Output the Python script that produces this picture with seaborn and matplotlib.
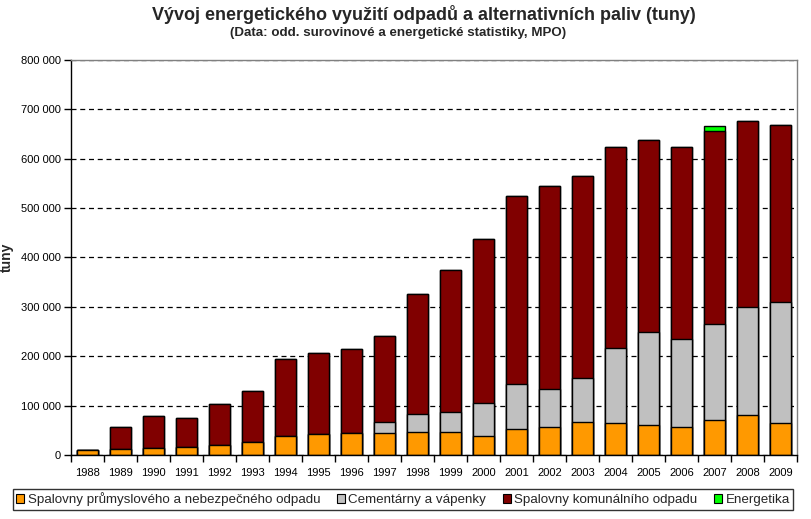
import pandas as pd
import matplotlib.pyplot as plt
import seaborn as sns
from matplotlib.patches import Patch
from matplotlib.ticker import FuncFormatter, FixedLocator

# --- DATA (tuny) ---
years = [str(y) for y in range(1988, 2010)]
prumyslove = [9500, 11500, 13500, 15500, 19500, 25700, 37800, 42500, 43800, 43800, 45900,
              45900, 37800, 52000, 56000, 66000, 64100, 60000, 57300, 70200, 80900, 64100]
cementarny = [0, 0, 0, 0, 0, 0, 0, 0, 0, 22200, 36400,
              41700, 66800, 91000, 77000, 89000, 151700, 188200, 176700, 194200, 217900, 244800]
komunalni = [0, 44500, 65500, 58500, 83000, 103800, 155700, 163200, 170000, 174700, 244700,
             286700, 333800, 381000, 411200, 409400, 408600, 389100, 390400, 391100, 376900, 360100]
energetika = [0, 0, 0, 0, 0, 0, 0, 0, 0, 0, 0,
              0, 0, 0, 0, 0, 0, 0, 0, 10100, 0, 0]

labels = ['Spalovny průmyslového a nebezpečného odpadu', 'Cementárny a vápenky',
          'Spalovny komunálního odpadu', 'Energetika']
colors = ['#FF9900', '#C0C0C0', '#800000', '#00FF00']

df = pd.DataFrame({'rok': years, 'prum': prumyslove, 'cem': cementarny,
                   'kom': komunalni, 'ener': energetika})
# cumulative heights, drawn back to front so they look stacked
df['c1'] = df['prum']
df['c2'] = df['c1'] + df['cem']
df['c3'] = df['c2'] + df['kom']
df['c4'] = df['c3'] + df['ener']

sns.set_theme(style="white")
plt.rcParams['font.family'] = ['Liberation Sans', 'DejaVu Sans']

fig = plt.figure(figsize=(8.11, 5.19), dpi=100)
ax = fig.add_axes([71 / 811, 64 / 519, 726 / 811, 395 / 519])

for col, color in zip(['c4', 'c3', 'c2', 'c1'], colors[::-1]):
    sns.barplot(data=df, x='rok', y=col, color=color, width=0.64, ax=ax,
                edgecolor='black', linewidth=1.0, saturation=1)

ax.set_xlim(-0.5, len(years) - 0.5)
ax.set_ylim(0, 800000)
ax.set_yticks(range(0, 800001, 100000))
ax.yaxis.set_major_formatter(FuncFormatter(lambda v, p: f"{int(v):,}".replace(',', ' ')))
ax.set_axisbelow(True)
ax.yaxis.grid(True, color='black', linestyle=(0, (4, 3)), linewidth=0.9)
ax.xaxis.grid(False)

ax.set_xlabel('')
ax.set_ylabel('tuny', fontsize=10, fontweight='bold', labelpad=5)

# tick marks between categories, labels centered under bars
ax.xaxis.set_minor_locator(FixedLocator([i - 0.5 for i in range(len(years) + 1)]))
ax.tick_params(axis='x', which='major', length=0, labelsize=8, pad=9, colors='black')
ax.tick_params(axis='x', which='minor', length=5, width=1, color='black', direction='out')
ax.tick_params(axis='y', which='major', length=5, width=1, color='black', direction='out',
               labelsize=8, labelcolor='black', pad=2.5)
ax.tick_params(bottom=True, left=True, which='both')

for side in ['left', 'bottom']:
    ax.spines[side].set_color('black')
    ax.spines[side].set_linewidth(1.0)
for side in ['top', 'right']:
    ax.spines[side].set_color('#808080')
    ax.spines[side].set_linewidth(1.0)

fig.text(424 / 811, 1 - 15 / 519, 'Vývoj energetického využití odpadů a alternativních paliv (tuny)',
         ha='center', va='center', fontsize=13, fontweight='bold')
fig.text(398 / 811, 1 - 33 / 519, '(Data: odd. surovinové a energetické statistiky, MPO)',
         ha='center', va='center', fontsize=9.6, fontweight='bold')

handles = [Patch(facecolor=c, edgecolor='black', linewidth=0.8) for c in colors]
leg = fig.legend(handles, labels, loc='center', ncol=4, bbox_to_anchor=(403 / 811, 1 - 499.5 / 519),
                 fontsize=9.6, frameon=True, fancybox=False, edgecolor='black',
                 handlelength=0.62, handleheight=0.62, handletextpad=0.25, columnspacing=1.25,
                 borderpad=0.25, borderaxespad=0)
leg.get_frame().set_linewidth(1.0)

fig.savefig('out.png', dpi=100)
